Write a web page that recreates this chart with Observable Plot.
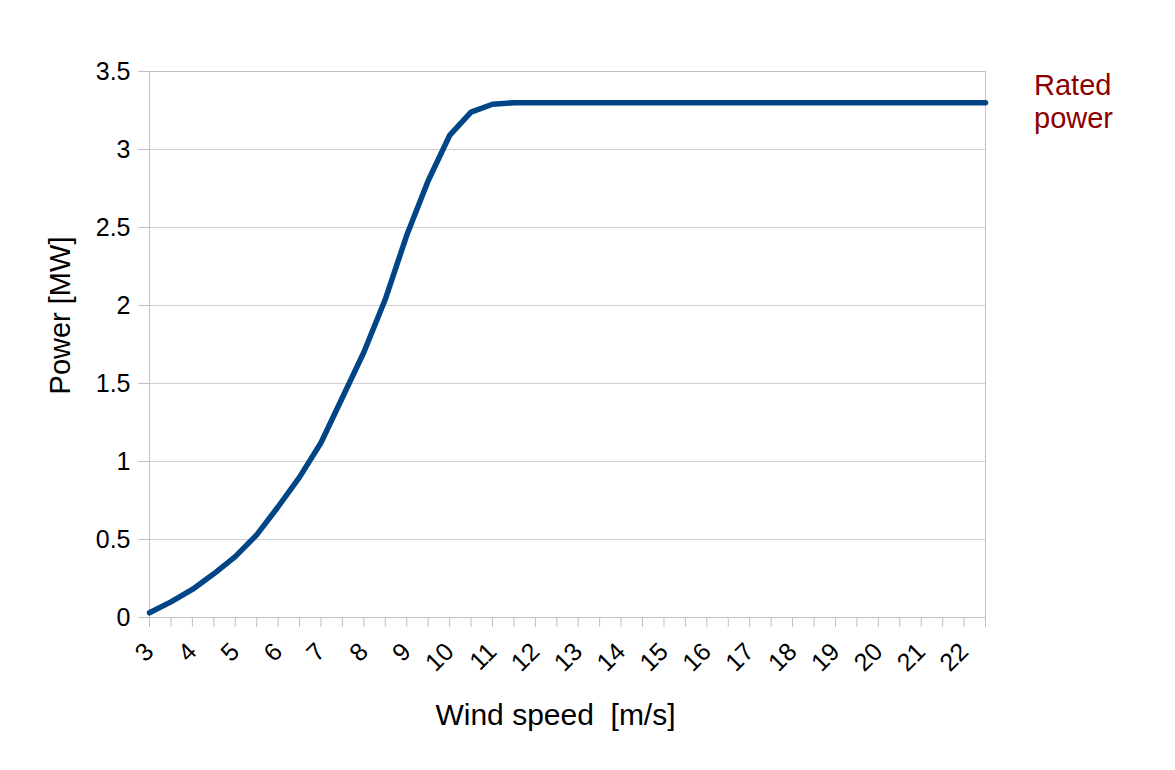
<!DOCTYPE html>
<html><head><meta charset="utf-8">
<script src="https://cdn.jsdelivr.net/npm/d3@7"></script>
<script src="https://cdn.jsdelivr.net/npm/@observablehq/plot@0.6"></script>
<style>
html,body{margin:0;padding:0;background:#fff;}
#chart{position:relative;width:1175px;height:770px;font-family:"Liberation Sans",Arial,sans-serif;}
.note{position:absolute;left:1034px;top:69px;color:#8b0000;font-size:29px;line-height:33px;}
#chart svg text{white-space:pre;}
</style></head>
<body><div id="chart"><div class="note">Rated<br>power</div></div>
<script>
const windSpeed = [3,3.5,4,4.5,5,5.5,6,6.5,7,7.5,8,8.5,9,9.5,10,10.5,11,11.5,12,12.5,13,13.5,14,14.5,15,15.5,16,16.5,17,17.5,18,18.5,19,19.5,20,20.5,21,21.5,22,22.5];
const powerMW  = [0.03,0.1,0.18,0.28,0.39,0.53,0.71,0.9,1.12,1.41,1.7,2.04,2.45,2.8,3.09,3.24,3.29,3.3,3.3,3.3,3.3,3.3,3.3,3.3,3.3,3.3,3.3,3.3,3.3,3.3,3.3,3.3,3.3,3.3,3.3,3.3,3.3,3.3,3.3,3.3];
const xTickLabels = [3,4,5,6,7,8,9,10,11,12,13,14,15,16,17,18,19,20,21,22];
const xMinorTicks = windSpeed;
const yTicks = [0,0.5,1,1.5,2,2.5,3,3.5];

const data = windSpeed.map((w,i)=>({w, p: powerMW[i]}));

const chart = Plot.plot({
  width: 1175, height: 770,
  marginLeft: 149, marginRight: 190, marginTop: 71, marginBottom: 153,
  style: {fontFamily: '"Liberation Sans", Arial, sans-serif', fontSize: "25px", color: "#000", background: "transparent"},
  x: {domain: [3, 22.5]},
  y: {domain: [0, 3.5]},
  marks: [
    Plot.gridY(yTicks, {stroke: "#d0d0d0", strokeOpacity: 1, strokeWidth: 1}),
    Plot.axisY(yTicks, {tickSize: 11, stroke: "#c0c0c0", tickPadding: 8, fontSize: 25, tickFormat: d => String(d), label: null}),
    Plot.frame({stroke: "#c0c0c0", strokeWidth: 1}),
    Plot.axisX(xMinorTicks, {tickSize: 10, stroke: "#c0c0c0", text: null, label: null}),
    Plot.axisX(xTickLabels, {tickSize: 0, tickRotate: -45, tickPadding: 30, fontSize: 25, tickFormat: d => String(d), label: null}),
    Plot.line(data, {x: "w", y: "p", stroke: "#004586", strokeWidth: 5.5, strokeLinejoin: "miter"}),
    Plot.text(["Wind speed  [m/s]"], {frameAnchor: "bottom", dx: -12, dy: 98, fontSize: 30, text: d => d, lineAnchor: "middle", textAnchor: "middle"}),
    Plot.text(["Power [MW]"], {frameAnchor: "left", dx: -89, dy: -29, rotate: -90, fontSize: 29, text: d => d, lineAnchor: "middle", textAnchor: "middle"})
  ]
});
document.getElementById("chart").prepend(chart);
chart.style.position = "absolute"; chart.style.left = "0"; chart.style.top = "0";
</script>
</body></html>
